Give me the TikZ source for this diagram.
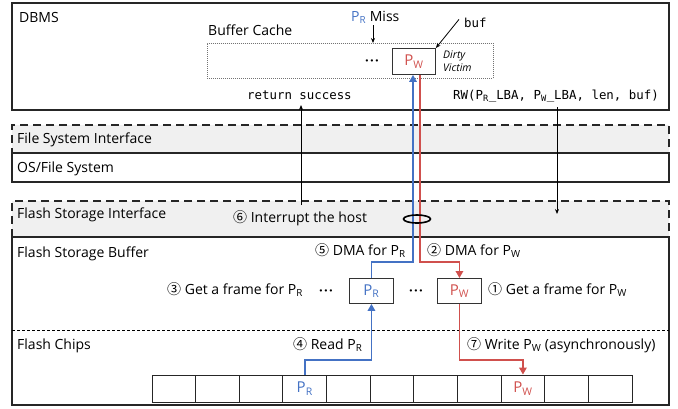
\documentclass[tikz,border=0pt]{standalone}
\usepackage{fontspec}
\setmainfont{Open Sans}
\newfontfamily\cjk{Noto Sans CJK KR}
\newfontfamily\codefont{DejaVu Sans Mono}
\usetikzlibrary{arrows.meta}
\definecolor{rblue}{HTML}{4472C4}
\definecolor{rred}{HTML}{D0504D}
\definecolor{ifill}{HTML}{F0F0F0}
\newcommand{\PR}{{\color{rblue}P\textsubscript{R}}}
\newcommand{\PW}{{\color{rred}P\textsubscript{W}}}
\newcommand{\stepnum}[1]{{\cjk #1}}
\newcommand{\hdots}{\textbf{·\kern1.2pt·\kern1.2pt·}}
\begin{document}
\begin{tikzpicture}[x=1pt,y=-1pt,
  layerbox/.style={draw=black!85, line width=1.1pt, anchor=north west, inner sep=0, outer sep=0},
  ifacebox/.style={layerbox, fill=ifill, dash pattern=on 8pt off 5pt},
  lbl/.style={anchor=base west, font=\fontsize{14}{16}\selectfont, inner sep=0},
  code/.style={anchor=base west, font=\codefont\fontsize{12.4}{14}\selectfont, inner sep=0},
  page/.style={draw=black!80, line width=0.9pt, minimum width=44pt, minimum height=25pt, inner sep=0, font=\fontsize{15}{17}\selectfont},
  cell/.style={draw=black!85, line width=0.9pt, minimum width=43.64pt, minimum height=27pt, inner sep=0},
  dots/.style={anchor=base, font=\fontsize{13}{14}\selectfont, inner sep=0},
  bpath/.style={draw=rblue, line width=1.6pt},
  rpath/.style={draw=rred, line width=1.6pt},
  tri/.style={-{Triangle[length=7pt,width=7.5pt]}},
  thin arrow/.style={draw=black, line width=0.8pt, -{Stealth[length=5pt,width=4pt]}}
]
\useasboundingbox (0,0) rectangle (678,408);

% host side
\node[layerbox, minimum width=657pt, minimum height=107pt] (dbms) at (12,3) {};
\node[lbl] (dbmslbl) at (19,22) {DBMS};
\node[lbl] (bclbl) at (208,35) {Buffer Cache};
\node[draw=black!55, line width=0.7pt, dash pattern=on 1pt off 1pt, anchor=north west,
      minimum width=286pt, minimum height=35pt, inner sep=0] (cache) at (207,43) {};
\node[dots] (cdots) at (372,65) {\hdots};
\node[page, minimum width=43pt, minimum height=26pt, anchor=north west] (cacheW) at (392,48) {\PW};
\node[anchor=base west, inner sep=0, font=\itshape\fontsize{10.5}{12}\selectfont] (dirty) at (443,58) {Dirty};
\node[anchor=base west, inner sep=0, font=\itshape\fontsize{10.5}{12}\selectfont] (victim) at (443,71) {Victim};
\node[lbl] (miss) at (351,21) {\PR\ Miss};
\node[code] (buf) at (464,27) {buf};
\node[code] (ret) at (247,99) {return success};
\node[code] (rw) at (453,99) {RW(P\textsubscript{R}\_LBA, P\textsubscript{W}\_LBA, len, buf)};

% interfaces and layers
\node[ifacebox, minimum width=657pt, minimum height=28pt] (fsi) at (12,125) {};
\node[layerbox, minimum width=657pt, minimum height=29pt] (os) at (12,153) {};
\node[lbl] (fsilbl) at (17,143) {File System Interface};
\node[lbl] (oslbl) at (17,172) {OS/File System};
\node[ifacebox, minimum width=657pt, minimum height=36pt] (fsti) at (12,201) {};
\node[layerbox, minimum width=657pt, minimum height=168pt] (fsb) at (12,237) {};
\node[lbl] (fstilbl) at (17,218) {Flash Storage Interface};
\node[lbl] (intr) at (233,222) {\stepnum{⑥} Interrupt the host};
\node[lbl] (fsblbl) at (17,257) {Flash Storage Buffer};
\draw[black, line width=0.9pt, dash pattern=on 3pt off 2pt] (fsb.west |- 0,330) coordinate (chipL) -- (fsb.east |- 0,330) coordinate (chipR);
\node[lbl] (chiplbl) at (17,349) {Flash Chips};

% storage buffer frames
\node[page, anchor=north west] (bufR) at (349,278) {\PR};
\node[page, anchor=north west] (bufW) at (437,278) {\PW};
\node[dots] (bdotsA) at (326,295) {\hdots};
\node[dots] (bdotsB) at (416,295) {\hdots};
\node[lbl] (s3) at (167,294) {\stepnum{③} Get a frame for P\textsubscript{R}};
\node[lbl] (s1) at (488,294) {\stepnum{①} Get a frame for P\textsubscript{W}};
\node[lbl] (s5) at (315,255) {\stepnum{⑤} DMA for P\textsubscript{R}};
\node[lbl] (s2) at (427,255) {\stepnum{②} DMA for P\textsubscript{W}};
\node[lbl] (s4) at (293,349) {\stepnum{④} Read P\textsubscript{R}};
\node[lbl] (s7) at (467,349) {\stepnum{⑦} Write P\textsubscript{W} (asynchronously)};

% flash chip pages
\foreach \i in {0,...,10}
  \node[cell] (c\i) at ({152+43.64*\i+21.82},388.5) {};
\node[font=\fontsize{15}{17}\selectfont, inner sep=0] (chipR) at (c3) {\PR};
\node[font=\fontsize{15}{17}\selectfont, inner sep=0] (chipW) at (c8) {\PW};

% data paths
\coordinate (bTurn) at (413,262);
\coordinate (rTurn) at (420,262);
\draw[bpath, tri] (bufR.north) |- (bTurn) -- (cacheW.south -| bTurn);
\draw[rpath, tri] (cacheW.south -| rTurn) -- (rTurn) -| (bufW.north);
\coordinate (rdTurn) at (0,360);
\draw[bpath, tri] (c3.north) |- (rdTurn -| bufR) -- (bufR.south);
\draw[rpath, tri] (bufW.south) |- (rdTurn -| c8) -- (c8.north);
\draw[black, line width=1.6pt] (417,219) ellipse (13.5pt and 4pt);

% host control arrows
\coordinate (retFrom) at (301,205);
\coordinate (retTo) at (301,105);
\draw[thin arrow] (retFrom) -- (retTo);
\coordinate (rwFrom) at (557,107);
\coordinate (rwTo) at (557,214);
\draw[thin arrow] (rwFrom) -- (rwTo);
\coordinate (missFrom) at (373,25);
\draw[thin arrow] (missFrom) -- (missFrom |- cache.north);
\draw[thin arrow] (buf.west) ++(-5,-3) coordinate (bufFrom) -- (cacheW.north east);
\end{tikzpicture}
\end{document}
